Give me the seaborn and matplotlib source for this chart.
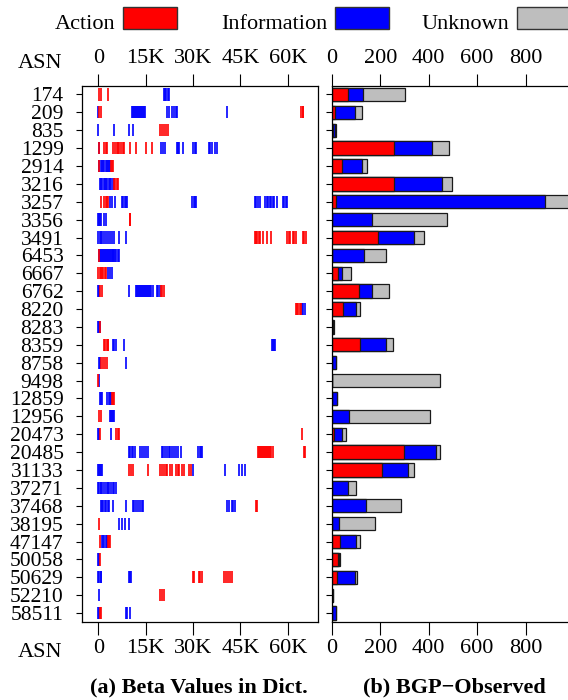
import matplotlib
matplotlib.use('Agg')
import matplotlib.pyplot as plt
import seaborn as sns
import pandas as pd
import numpy as np
from matplotlib.patches import Rectangle

# ---------------- data ----------------
asns = ['174', '209', '835', '1299', '2914', '3216', '3257', '3356', '3491', '6453',
        '6667', '6762', '8220', '8283', '8359', '8758', '9498', '12859', '12956', '20473',
        '20485', '31133', '37271', '37468', '38195', '47147', '50058', '50629', '52210', '58511']

# beta values (ASNs seen in the dictionary), split by category
beta_action = {
    '174': [100, 700, 3000],
    '209': [250, 800, 64300, 64700, 65000],
    '835': [19600, 20200, 20800, 21500, 22200],
    '1299': [100, 1800, 2300, 2800, 4800, 5300, 5800, 6300, 6700, 7200, 7700, 8100, 9900, 12000, 15000, 17000],
    '2914': [100, 3900, 4300, 4800],
    '3216': [5000, 5400, 5800, 6100],
    '3257': [800, 1900, 2300, 2700, 3200],
    '3356': [9900, 10100],
    '3491': [49600, 50000, 50400, 50800, 51200, 52100, 53500, 54600, 59900, 60300, 60700, 61600, 62100, 62600, 64800, 65200, 65700],
    '6453': [100],
    '6667': [0, 400, 800, 1200, 1600, 2000, 2400],
    '6762': [600, 1200, 19800, 20300, 20800],
    '8220': [62600, 63000, 63400, 63800, 64200],
    '8283': [600],
    '8359': [1800, 2200, 2600, 3000, 3200],
    '8758': [1000, 1500, 2100, 2800],
    '9498': [0],
    '12859': [4400, 4800, 5100],
    '12956': [300, 700],
    '20473': [500, 5700, 6100, 6600, 64500],
    '20485': [50700, 51000, 51300, 51600, 51900, 52200, 52500, 52800, 53100, 53400, 53700, 54000, 54400, 54800, 55200, 65300, 65600],
    '31133': [9800, 10400, 11000, 15800, 19600, 20100, 20700, 21300, 21900, 22600, 23300, 24500, 25100, 25700, 26400, 27000, 28800, 29500],
    '37271': [],
    '37468': [50000, 50300],
    '38195': [300],
    '47147': [500, 3000, 3400, 3800],
    '50058': [500],
    '50629': [29900, 30400, 31900, 32300, 32800, 39800, 40500, 41200, 41800, 42400],
    '52210': [19700, 20100, 20700],
    '58511': [500, 700],
}
beta_info = {
    '174': [20800, 21200, 21600, 22000, 22400],
    '209': [0, 10800, 11100, 11400, 11700, 12000, 12300, 12600, 12900, 13200, 13500, 13800, 14100, 14400, 14800,
            21700, 22400, 23200, 23900, 24600, 25000, 40900],
    '835': [0, 4900, 9800, 11000],
    '1299': [300, 19900, 20400, 21000, 24800, 25200, 25500, 26900, 29900, 30500, 31100, 35000, 35500, 36000, 37000, 37500],
    '2914': [300, 700, 1100, 1500, 1900, 2300, 2700, 3100, 3500, 3800],
    '3216': [500, 900, 1300, 1700, 2100, 2500, 2900, 3300, 3700, 4100, 4500, 4900],
    '3257': [3700, 4200, 5200, 7500, 7900, 8300, 8700, 9200, 29800, 30300, 30700, 31100, 49600, 50100, 50600, 51100,
             52800, 53300, 53800, 54300, 54800, 55300, 55800, 56500, 58400, 58900, 59400, 59900],
    '3356': [0, 300, 600, 1000, 1800, 2300],
    '3491': [0, 400, 800, 1200, 1800, 2400, 3100, 3700, 4300, 5000, 6600, 8900],
    '6453': [300, 600, 900, 1200, 1500, 1800, 2100, 2400, 2700, 3000, 3300, 3600, 3900, 4200, 4500, 4800, 5100, 5400, 5700, 6100, 6500],
    '6667': [3000, 3600, 4200],
    '6762': [0, 200, 9800, 12100, 12400, 12700, 13000, 13300, 13600, 13900, 14200, 14500, 14800, 15100, 15400, 15700,
             16000, 16400, 16800, 17400, 18500, 19000, 19500],
    '8220': [64600, 65000, 65500],
    '8283': [0, 200, 400],
    '8359': [4800, 5100, 5500, 8200, 54900, 55200, 55600, 56000],
    '8758': [100, 400, 8700],
    '9498': [200],
    '12859': [500, 800, 1100, 2900, 3300, 3600, 4000],
    '12956': [3700, 4000, 4300, 4600, 4900],
    '20473': [0, 300, 3900],
    '20485': [9800, 10200, 10700, 11100, 11500, 13200, 13700, 14400, 15200, 15900, 20200, 20600, 21100, 21700, 22300,
              22800, 23500, 24000, 24700, 25400, 26200, 31700, 32100, 32500, 33000],
    '31133': [0, 300, 600, 1000, 1300, 30000, 40000, 44700, 45400, 46400],
    '37271': [0, 300, 700, 1000, 1600, 2200, 2600, 3000, 3500, 4000, 4600, 5100, 5500],
    '37468': [800, 1200, 1600, 2000, 2400, 3000, 3500, 4500, 8800, 10900, 11400, 12000, 12600, 13200, 13800, 14200,
              40900, 41500, 42200, 42800, 43300],
    '38195': [6500, 7500, 8300, 9600],
    '47147': [1200, 1500, 1900, 2300, 2600, 2900],
    '50058': [0, 300],
    '50629': [0, 300, 700, 1000, 9800, 10200, 10500],
    '52210': [200],
    '58511': [0, 300, 8800, 9200, 10000],
}

# BGP-observed counts per ASN
bgp_action = [69, 15, 4, 255, 41, 257, 18, 2, 189, 2,
              25, 113, 48, 1, 116, 1, 0, 1, 2, 8,
              300, 209, 1, 1, 1, 36, 27, 21, 2, 1]
bgp_info = [60, 83, 10, 158, 83, 199, 863, 166, 152, 130,
            16, 54, 51, 6, 110, 18, 1, 19, 70, 35,
            130, 106, 65, 139, 28, 66, 2, 77, 3, 17]
bgp_unknown = [173, 27, 5, 69, 22, 41, 150, 308, 39, 90,
               39, 68, 17, 1, 26, 0, 447, 1, 333, 15,
               16, 25, 33, 146, 151, 14, 5, 8, 0, 1]

categories = ['Action', 'Information', 'Unknown']
colors = {'Action': '#FF0000', 'Information': '#0000FF', 'Unknown': '#BEBEBE'}

beta_ticks = [0, 15000, 30000, 45000, 60000]
beta_tick_labels = ['0', '15K', '30K', '45K', '60K']
bgp_ticks = [0, 200, 400, 600, 800]
bgp_tick_labels = ['0', '200', '400', '600', '800']

# ---------------- tables ----------------
rows = []
for i, a in enumerate(asns):
    for v in beta_info[a]:
        rows.append({'asn': a, 'row': i, 'beta': v, 'type': 'Information'})
    for v in beta_action[a]:
        rows.append({'asn': a, 'row': i, 'beta': v, 'type': 'Action'})
df_beta = pd.DataFrame(rows)

df_bgp = pd.DataFrame({'asn': asns, 'action': bgp_action, 'info': bgp_info, 'unknown': bgp_unknown})
df_bgp['ai'] = df_bgp['action'] + df_bgp['info']
df_bgp['total'] = df_bgp['ai'] + df_bgp['unknown']

# ---------------- style ----------------
sns.set_theme(style='white')
plt.rcParams['font.family'] = ['Liberation Serif', 'DejaVu Serif']
plt.rcParams['axes.edgecolor'] = 'black'
plt.rcParams['axes.linewidth'] = 0.9
plt.rcParams['text.color'] = 'black'
plt.rcParams['xtick.color'] = 'black'
plt.rcParams['ytick.color'] = 'black'

W, H = 568, 700
fig = plt.figure(figsize=(W / 100, H / 100), dpi=100)

def fx(px):
    return px / W

def fy(py):
    return 1 - py / H

ax_top, ax_bot = 85.5, 622.0
ax1 = fig.add_axes([fx(82.3), fy(ax_bot), fx(318.5 - 82.3), (ax_bot - ax_top) / H])
ax2 = fig.add_axes([fx(331.7), fy(ax_bot), fx(254.6), (ax_bot - ax_top) / H])

# ---------------- left panel: beta values ----------------
sns.scatterplot(data=df_beta, x='beta', y='row', hue='type',
                palette=colors, hue_order=['Information', 'Action'],
                marker='|', s=78, linewidth=1.2, legend=False, ax=ax1)
ax1.set_xlim(-5070, 69760)
ax1.set_ylim(len(asns) - 0.5, -0.5)
ax1.set_yticks(range(len(asns)))
ax1.set_yticklabels(asns)
ax1.set_xticks(beta_ticks)
ax1.set_xticklabels(beta_tick_labels)

# ---------------- right panel: stacked bars ----------------
common = dict(y='asn', order=asns, orient='h', errorbar=None, saturation=1,
              edgecolor='#1a1a1a', linewidth=0.9, width=0.745, ax=ax2)
sns.barplot(data=df_bgp, x='total', color=colors['Unknown'], **common)
sns.barplot(data=df_bgp, x='ai', color=colors['Information'], **common)
sns.barplot(data=df_bgp, x='action', color=colors['Action'], **common)
ax2.set_xlim(0, 1050)
ax2.set_ylim(len(asns) - 0.5, -0.5)
ax2.set_xticks(bgp_ticks)
ax2.set_xticklabels(bgp_tick_labels)

for ax in (ax1, ax2):
    ax.set_xlabel('')
    ax.set_ylabel('')
    for s in ax.spines.values():
        s.set_visible(True)
        s.set_color('black')
        s.set_linewidth(0.9)
    ax.tick_params(axis='x', which='major', top=True, bottom=True, labeltop=True, labelbottom=True,
                   direction='out', length=9, width=0.8, pad=3.3, labelsize=16)
    ax.tick_params(axis='y', which='major', left=True, right=False, direction='out',
                   length=4.5, width=0.8, pad=9, labelsize=15.5)
ax2.tick_params(axis='y', labelleft=False)

# "ASN" row headers next to the x tick label rows
fig.text(fx(62.7), fy(68.3), 'ASN', ha='right', va='baseline', fontsize=16)
fig.text(fx(62.7), fy(657.0), 'ASN', ha='right', va='baseline', fontsize=16)

# captions
fig.text(fx(199), fy(692), '(a) Beta Values in Dict.', ha='center', va='baseline',
         fontsize=16, fontweight='bold')
fig.text(fx(454), fy(692), '(b) BGP\u2212Observed', ha='center', va='baseline',
         fontsize=16, fontweight='bold')

# legend (label followed by a colour box)
box_lefts = [123.3, 334.5, 516.7]
for lab, bl in zip(categories, box_lefts):
    fig.text(fx(bl - 7.5), fy(28.7), lab, ha='right', va='baseline', fontsize=16)
    fig.patches.append(Rectangle((fx(bl), fy(28.7)), fx(54), 21.4 / H,
                                 transform=fig.transFigure, facecolor=colors[lab],
                                 edgecolor='#333333', linewidth=1.0))

fig.savefig('out.png', dpi=100)
